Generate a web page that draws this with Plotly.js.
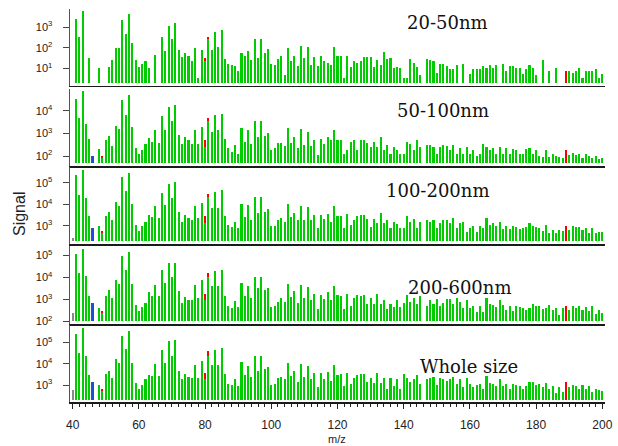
<!DOCTYPE html>
<html><head><meta charset="utf-8">
<script src="https://cdn.plot.ly/plotly-3.0.1.min.js"></script>
<style>html,body{margin:0;padding:0;background:#fff}#chart{width:618px;height:446px}</style>
</head><body><div id="chart"></div>
<script>
// m/z categories
const mz = [40,41,42,43,44,45,46,47,48,49,50,51,52,53,54,55,56,57,58,59,60,61,62,63,64,65,66,67,68,69,70,71,72,73,74,75,76,77,78,79,80,81,82,83,84,85,86,87,88,89,90,91,92,93,94,95,96,97,98,99,100,101,102,103,104,105,106,107,108,109,110,111,112,113,114,115,116,117,118,119,120,121,122,123,124,125,126,127,128,129,130,131,132,133,134,135,136,137,138,139,140,141,142,143,144,145,146,147,148,149,150,151,152,153,154,155,156,157,158,159,160,161,162,163,164,165,166,167,168,169,170,171,172,173,174,175,176,177,178,179,180,181,182,183,184,185,186,187,188,189,190,191,192,193,194,195,196,197,198,199,200];

const panelNames = ["20-50nm","50-100nm","100-200nm","200-600nm","Whole size"];

// y tick exponents shown on each panel
const tickExps = [[1,2,3],[2,3,4],[3,4,5],[2,3,4,5],[3,4,5]];

// log10(Signal) of the green bars, m/z 40..200 (null = no bar)
const logGreen20_50 = [
null,3.39,2.51,3.78,null,1.49,null,null,1.0,null,
null,1.05,1.39,1.98,1.98,3.34,2.69,3.67,2.22,1.39,
1.06,1.23,1.34,1.0,null,1.67,null,2.53,1.83,3.08,
2.41,3.23,1.88,1.55,1.73,1.6,1.34,1.98,0.53,1.88,
1.36,2.41,1.88,2.76,2.04,2.87,1.44,1.23,1.15,1.11,
0.85,1.76,1.6,1.83,1.39,2.41,1.5,2.41,1.76,1.93,
1.23,1.18,1.44,1.6,0.69,1.98,1.34,1.6,1.11,2.09,
1.5,2.04,1.18,1.55,1.11,1.6,1.34,1.28,1.18,2.04,
1.6,1.6,0.51,1.6,1.06,1.34,1.28,1.34,1.55,1.55,
1.55,1.06,1.39,1.18,1.78,1.44,1.5,1.01,1.06,1.01,
0.51,0.51,1.44,1.28,1.06,0.69,null,1.44,1.39,1.34,
0.79,1.23,1.23,1.11,0.98,0.98,1.18,null,1.23,null,
0.74,0.95,0.95,0.95,1.11,1.01,1.18,1.01,1.18,null,
1.23,0.89,1.11,1.11,1.01,1.01,0.74,0.95,1.18,1.01,
0.69,null,1.39,null,0.85,null,1.01,null,null,null,
0.89,0.79,0.89,1.01,0.51,0.89,0.85,0.85,0.95,0.51,0.74];

const logGreen50_100 = [
null,4.54,3.66,4.87,3.43,2.75,null,null,2.29,1.93,
2.69,2.88,2.44,3.32,3.21,4.47,3.81,4.71,3.28,2.35,
2.1,2.25,2.54,2.79,2.63,3.13,2.59,3.76,3.13,4.16,
3.54,4.25,2.93,2.54,2.84,2.69,2.54,3.13,2.54,3.28,
2.41,3.54,3.07,3.81,3.13,3.85,2.74,2.35,2.19,2.5,
2.1,3.24,2.63,3.13,2.54,3.53,2.84,3.53,2.88,3.03,
2.25,2.35,2.59,2.59,2.44,3.24,2.59,2.84,2.35,3.19,
2.49,3.07,2.44,2.69,2.06,2.74,2.54,2.84,2.71,3.15,
2.71,2.71,2.1,2.25,2.63,2.71,2.25,2.71,2.71,2.56,
2.4,2.63,2.4,2.84,2.25,2.49,2.1,2.4,2.25,2.1,
2.1,2.63,2.54,2.25,2.69,2.4,null,2.49,2.49,2.4,
2.1,2.4,2.49,2.44,2.25,2.49,2.1,2.34,2.1,2.4,
2.1,2.25,2.0,2.1,2.54,2.4,2.25,2.34,2.1,2.4,
2.1,2.34,2.1,2.3,2.25,2.1,2.1,2.3,2.34,2.1,
2.25,2.0,1.96,2.25,1.96,2.1,2.0,1.96,1.9,null,
2.05,2.15,2.05,2.1,1.9,2.1,2.0,1.9,2.0,1.85,1.9];

const logGreen100_200 = [
null,5.34,4.43,5.6,4.28,3.45,null,null,2.98,2.68,
3.45,3.65,3.25,4.11,3.91,5.25,4.63,5.45,4.03,3.05,
2.78,2.98,3.2,3.49,3.4,3.91,3.35,4.52,3.95,4.92,
4.31,5.05,3.65,3.2,3.49,3.35,3.29,3.91,3.35,4.06,
3.14,4.34,3.85,4.58,3.85,4.68,3.45,3.05,2.94,3.18,
2.88,4.03,3.4,3.95,3.29,4.32,3.6,4.32,3.65,3.8,
2.98,2.98,3.29,3.35,3.18,4.02,3.4,3.6,3.29,3.91,
3.29,3.88,3.25,3.49,2.89,3.49,3.31,3.54,3.18,3.91,
3.45,3.45,2.89,3.54,3.02,3.29,3.45,3.49,3.49,3.34,
2.97,3.34,3.11,3.6,3.14,3.29,2.89,3.2,3.08,2.89,
2.89,3.45,3.2,3.34,2.89,3.2,null,3.25,3.2,3.29,
2.89,3.11,3.27,3.27,3.11,3.36,2.88,3.11,3.2,2.72,
2.88,2.98,2.72,2.98,2.88,3.38,3.05,3.11,2.98,3.18,
2.86,2.98,2.86,2.98,2.94,2.86,2.88,2.94,3.14,2.98,
2.94,2.88,2.74,3.02,2.68,2.8,2.68,2.83,2.75,null,
2.8,2.98,2.94,2.94,2.83,2.88,2.68,2.88,2.65,2.72,2.71];

const logGreen200_600 = [
null,5.09,4.22,5.29,4.07,3.16,null,null,2.61,2.37,
3.16,3.42,3.05,3.87,3.72,4.98,4.33,5.15,3.72,2.76,
2.46,2.66,2.85,3.35,3.16,3.66,3.16,4.33,3.77,4.68,
4.03,4.68,3.37,2.85,3.11,2.96,2.96,3.66,3.05,3.87,
2.96,4.03,3.61,4.3,3.61,4.33,3.16,2.7,2.61,2.91,
2.66,3.77,3.16,3.61,3.07,4.03,3.51,4.03,3.42,3.51,
2.66,2.7,2.9,3.07,2.9,3.72,3.11,3.37,2.85,3.68,
3.07,3.57,2.96,3.26,2.55,3.2,3.0,3.36,2.96,3.61,
3.2,3.16,2.55,3.26,2.7,3.05,3.2,3.16,3.2,2.81,
3.05,2.81,3.26,2.81,2.96,2.55,2.81,2.66,2.96,2.66,
2.85,3.2,2.9,3.05,2.81,3.16,null,2.7,2.96,2.81,
3.0,2.7,2.85,3.0,3.0,2.81,3.05,2.9,2.6,2.96,
2.6,2.7,2.44,2.7,2.44,3.05,2.78,2.75,2.66,2.96,
2.75,2.5,2.7,2.47,2.7,2.66,2.6,2.5,2.63,2.81,
2.7,2.7,2.55,2.6,2.75,2.5,2.6,2.29,2.6,null,
2.5,2.7,2.6,2.7,2.5,2.66,2.47,2.7,2.35,2.5,2.4];

const logGreenWhole = [
null,5.41,4.5,5.66,4.36,3.47,null,null,3.0,2.72,
3.52,3.67,3.31,4.2,4.05,5.3,4.69,5.52,4.05,3.11,
2.84,3.0,3.27,3.47,3.42,3.98,3.42,4.63,4.05,5.05,
4.36,5.09,3.67,3.27,3.52,3.36,3.31,3.94,3.31,4.14,
3.27,4.36,3.94,4.63,3.94,4.72,3.52,3.05,3.0,3.27,
2.95,4.09,3.47,3.89,3.36,4.36,3.67,4.36,3.73,3.83,
3.0,3.05,3.31,3.36,3.27,4.05,3.42,3.67,3.16,3.98,
3.36,3.89,3.27,3.58,2.91,3.58,3.27,3.63,3.2,3.94,
3.47,3.52,2.98,3.58,3.05,3.31,3.47,3.52,3.52,3.16,
3.31,3.11,3.58,3.11,3.31,2.8,3.31,2.95,3.27,2.84,
3.52,3.31,3.16,3.27,3.47,3.05,null,3.27,3.31,3.36,
3.0,3.31,3.27,3.2,3.27,3.36,3.05,3.27,2.89,3.31,
3.05,2.89,3.0,3.05,2.8,3.42,3.11,3.05,2.95,3.27,
2.95,3.05,2.84,3.05,3.0,2.95,2.84,2.95,3.16,3.16,
3.0,3.05,2.89,3.11,2.8,2.95,2.64,2.89,2.69,null,
2.89,3.0,2.95,2.84,3.0,2.84,2.95,2.69,2.8,2.75,2.73];

// highlighted peaks (red), m/z 49, 80, 81, 189
const redMz = [49, 80, 81, 189];
const logRed20_50   = [null, 1.49, 2.51, 0.85];
const logRed50_100  = [2.01, 2.69, 3.66, 2.25];
const logRed100_200 = [2.75, 3.45, 4.48, 2.98];
const logRed200_600 = [2.46, 3.26, 4.22, 2.70];
const logRedWhole   = [2.81, 3.58, 4.58, 3.16];

// blue peak at m/z 46, gray peak at m/z 40
const blueMz = [46];
const logBlue = [null, 2.01, 2.88, 2.85, 3.16];
const grayMz = [40];
const logGray = [null, null, 2.46, 2.40, 2.75];

const greens = [logGreen20_50, logGreen50_100, logGreen100_200, logGreen200_600, logGreenWhole];
const reds = [logRed20_50, logRed50_100, logRed100_200, logRed200_600, logRedWhole];

// ---- layout geometry (pixels) ----
const W = 618, H = 446, L = 70, R = 13, T = 8, B = 44;
const PW = W - L - R, PH = H - T - B;
const fx = px => (px - L) / PW;
const fy = py => (H - B - py) / PH;
const panelPx = [[9, 85.5], [89, 166], [166.5, 244], [246, 324], [325, 402]];
const yRanges = [[0.16, 3.89], [1.56, 4.96], [2.16, 5.75], [1.88, 5.44], [2.21, 5.81]];
const baseLog = [0.28, 1.68, 2.3, 2.0, 2.3];
const labelPos = [[447, 23], [442.5, 110.5], [437, 190], [459.5, 287], [468.8, 366]];

const GREEN = '#00cc00', RED = '#ff0000', BLUE = '#1f4fd8', GRAY = '#8a8a8a';
const BW = 0.62;

function barTrace(xs, logs, color, i) {
  const base = Math.pow(10, baseLog[i]);
  const x = [], y = [];
  xs.forEach((m, k) => {
    const v = logs[k];
    if (v !== null && v !== undefined) { x.push(m); y.push(Math.pow(10, v) - base); }
  });
  const s = i === 0 ? '' : String(i + 1);
  return {type: 'bar', x: x, y: y, base: base, width: BW, xaxis: 'x' + s, yaxis: 'y' + s,
          marker: {color: color, line: {width: 0}}, hoverinfo: 'skip', showlegend: false};
}

const data = [];
const layout = {
  width: W, height: H, margin: {l: L, r: R, t: T, b: B},
  paper_bgcolor: '#fff', plot_bgcolor: '#fff', barmode: 'overlay', bargap: 0,
  showlegend: false, annotations: [],
  font: {family: 'Liberation Sans, Arial, sans-serif', color: '#222'}
};

for (let i = 0; i < 5; i++) {
  const s = i === 0 ? '' : String(i + 1);
  data.push(barTrace(redMz, reds[i], RED, i));
  if (logBlue[i] !== null) data.push(barTrace(blueMz, [logBlue[i]], BLUE, i));
  if (logGray[i] !== null) data.push(barTrace(grayMz, [logGray[i]], GRAY, i));
  data.push(barTrace(mz, greens[i], GREEN, i));

  const dom = [fy(panelPx[i][1]), fy(panelPx[i][0])];
  const isBottom = i === 4;
  layout['xaxis' + s] = {
    domain: [0, 1], anchor: 'y' + s, range: [39.2, 200.8],
    showline: true, linecolor: '#1a1a1a', linewidth: 1.5, showgrid: false, zeroline: false,
    ticks: isBottom ? 'outside' : '', ticklen: 5, tickwidth: 1, tickcolor: '#222',
    showticklabels: isBottom, tick0: 40, dtick: 20,
    tickfont: {size: 12, color: '#222'}, ticklabelstandoff: 6,
    minor: isBottom ? {ticks: 'outside', dtick: 2, ticklen: 3, tickwidth: 1, tickcolor: '#222'} : {}
  };
  layout['yaxis' + s] = {
    domain: dom, anchor: 'x' + s, type: 'log', range: yRanges[i],
    showline: true, linecolor: '#555', linewidth: 1.5, showgrid: false, zeroline: false,
    ticks: 'outside', ticklen: 6, tickwidth: 1, tickcolor: '#444',
    tickmode: 'array',
    tickvals: tickExps[i].map(e => Math.pow(10, e)),
    ticktext: tickExps[i].map(e => '10<sup>' + e + '</sup>'),
    tickfont: {size: 11, color: '#222'}, ticklabelstandoff: 8
  };
  layout.annotations.push({
    xref: 'paper', yref: 'paper', x: fx(labelPos[i][0]), y: fy(labelPos[i][1]),
    xanchor: 'center', yanchor: 'middle', showarrow: false, text: panelNames[i],
    font: {family: 'DejaVu Serif, serif', size: 18, color: '#111'}
  });
}
layout.annotations.push({xref: 'paper', yref: 'paper', x: fx(19), y: fy(214), textangle: -90,
  xanchor: 'center', yanchor: 'middle', showarrow: false, text: 'Signal',
  font: {size: 16, color: '#222'}});
layout.annotations.push({xref: 'paper', yref: 'paper', x: fx(337), y: fy(439),
  xanchor: 'center', yanchor: 'middle', showarrow: false, text: 'm/z',
  font: {size: 11, color: '#222'}});

Plotly.newPlot('chart', data, layout, {staticPlot: true, displayModeBar: false});
</script></body></html>
